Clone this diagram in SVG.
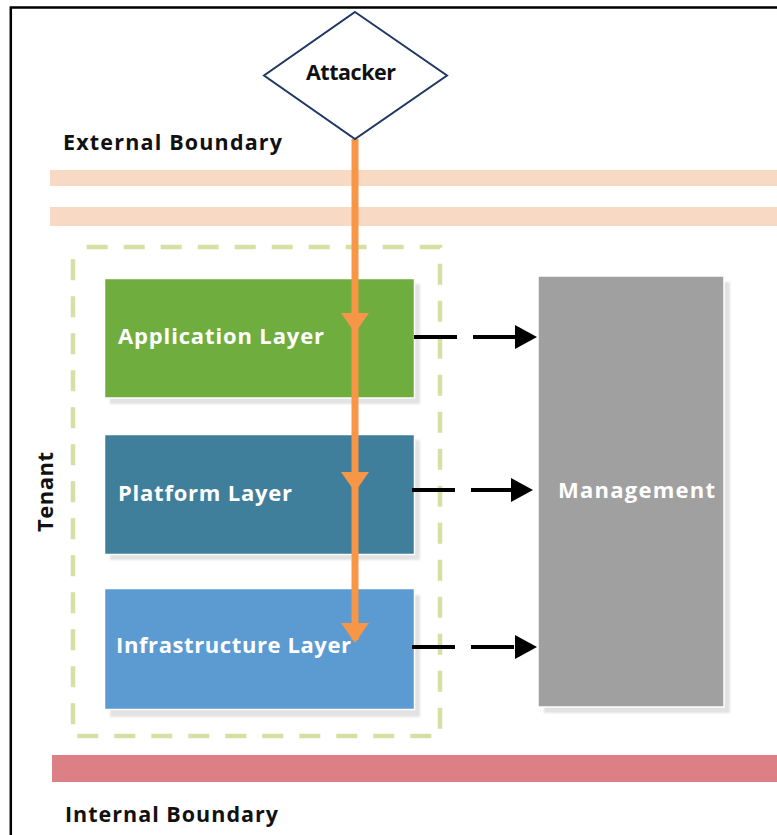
<svg xmlns="http://www.w3.org/2000/svg" xmlns:xlink="http://www.w3.org/1999/xlink" width="777" height="835" viewBox="0 0 777 835">
  <style>
    .label { font-family: "Open Sans", "Liberation Sans", sans-serif; font-weight: 700; }
    .dark { fill: #111111; }
    .light { fill: #ffffff; }
    .layer { stroke: #ffffff; stroke-width: 1.5; }
    .shadow { fill: #e2e2e2; filter: url(#soft); }
    .flow { fill: none; stroke: #000000; stroke-width: 4; stroke-dasharray: 43 16; marker-end: url(#arrowHead); }
  </style>
  <defs>
    <filter id="soft" x="-5%" y="-5%" width="110%" height="110%">
      <feGaussianBlur stdDeviation="1"/>
    </filter>
    <marker id="arrowHead" markerUnits="userSpaceOnUse" markerWidth="22" markerHeight="24" refX="0" refY="12" orient="auto" overflow="visible">
      <path d="M0,0 L22,12 L0,24 Z" fill="#000000"/>
    </marker>
    <polygon id="attackHead" points="-14,0 14,0 0,20" fill="#F79646"/>
  </defs>

  <rect width="777" height="835" fill="#ffffff"/>

  <!-- frame -->
  <path d="M10.8 835 V7.5 H777" fill="none" stroke="#000000" stroke-width="2.5"/>

  <!-- trust boundaries -->
  <g id="external-boundary">
    <rect x="50" y="170" width="727" height="16" fill="#F8D9C4"/>
    <rect x="50" y="207" width="727" height="19" fill="#F8D9C4"/>
    <text class="label dark" x="63" y="150" font-size="21.5" textLength="219">External Boundary</text>
  </g>
  <g id="internal-boundary">
    <rect x="52" y="755" width="725" height="27" fill="#DD8085"/>
    <text class="label dark" x="65" y="822" font-size="21.5" textLength="213">Internal Boundary</text>
  </g>

  <!-- tenant zone -->
  <g id="tenant">
    <rect x="73" y="247" width="367" height="489" fill="none" stroke="#D5E0A2" stroke-width="4.5" stroke-dasharray="21 16" stroke-dashoffset="23.3"/>
    <text class="label dark" x="53" y="532" font-size="22" textLength="80" transform="rotate(-90 53 532)">Tenant</text>
  </g>

  <!-- tenant layers -->
  <g id="application-layer">
    <rect class="shadow" x="110" y="284" width="310" height="120"/>
    <rect class="layer" x="104.5" y="278.5" width="310" height="119.5" fill="#70AD3F"/>
    <text class="label light" x="118" y="344" font-size="22" textLength="206">Application Layer</text>
  </g>
  <g id="platform-layer">
    <rect class="shadow" x="110" y="440" width="310" height="120"/>
    <rect class="layer" x="104.5" y="434.5" width="310" height="120" fill="#3F7F9C"/>
    <text class="label light" x="118" y="501" font-size="22" textLength="174">Platform Layer</text>
  </g>
  <g id="infrastructure-layer">
    <rect class="shadow" x="110" y="595" width="310" height="122"/>
    <rect class="layer" x="104.5" y="588.5" width="310" height="121" fill="#5B9BD2"/>
    <text class="label light" x="116" y="653" font-size="22" textLength="235">Infrastructure Layer</text>
  </g>

  <!-- management plane -->
  <g id="management">
    <rect class="shadow" x="544" y="282" width="186" height="431"/>
    <rect class="layer" x="538" y="276" width="186" height="431" fill="#A0A0A0"/>
    <text class="label light" x="558" y="498" font-size="22" textLength="157">Management</text>
  </g>

  <!-- connectors -->
  <g id="connectors">
    <path class="flow" d="M414 337 H515"/>
    <path class="flow" d="M412 490 H511"/>
    <path class="flow" d="M412 647 H515"/>
    <path d="M355 139 V640" fill="none" stroke="#F79646" stroke-width="7"/>
    <use xlink:href="#attackHead" x="355" y="313"/>
    <use xlink:href="#attackHead" x="355" y="472"/>
    <use xlink:href="#attackHead" x="355" y="623"/>
  </g>

  <!-- threat actor -->
  <g id="attacker">
    <polygon points="355,12 447,75.5 355,139 264,75.5" fill="#ffffff" stroke="#1F3864" stroke-width="2"/>
    <text class="label dark" x="306" y="80" font-size="21.5" textLength="90">Attacker</text>
  </g>
</svg>
